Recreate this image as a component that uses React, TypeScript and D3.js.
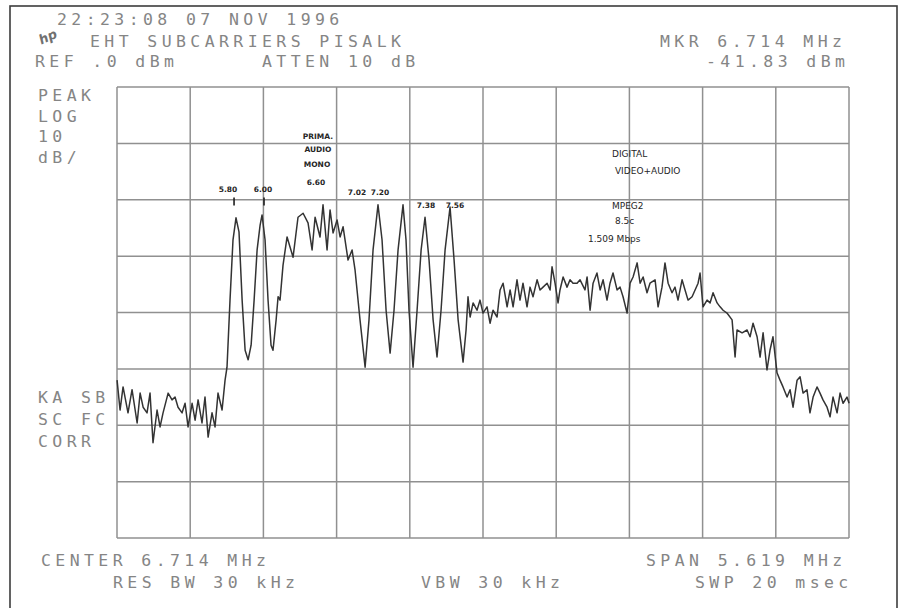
import React from 'react';
import * as d3 from 'd3';

// analyzer settings
const centerMHz = 6.714;
const spanMHz = 5.619;
const refLevel = 0;
const dbPerDiv = 10;
const hDivs = 10;
const vDivs = 8;

// trace, MHz / dBm
const freqMHz = [
  3.905, 3.928, 3.951, 3.989, 4.020, 4.059, 4.082, 4.105, 4.135, 4.158, 4.181, 4.212, 4.235, 4.258,
  4.297, 4.327, 4.350, 4.373, 4.404, 4.427, 4.450, 4.481, 4.504, 4.527, 4.557, 4.580, 4.604, 4.634,
  4.657, 4.680, 4.711, 4.734, 4.749,
  4.772, 4.795, 4.818, 4.841, 4.865, 4.888, 4.911, 4.934, 4.957, 4.980, 5.003, 5.018, 5.041, 5.064,
  5.087, 5.102, 5.126, 5.141, 5.156, 5.179, 5.210, 5.256, 5.294, 5.333, 5.371, 5.402, 5.425, 5.463,
  5.486, 5.517, 5.540, 5.563, 5.594, 5.617, 5.640, 5.678, 5.709, 5.732, 5.770, 5.809, 5.839, 5.870,
  5.908, 5.939, 5.970, 6.001, 6.031, 6.062, 6.100, 6.123, 6.146, 6.177, 6.208, 6.239, 6.269, 6.300,
  6.331, 6.361, 6.392, 6.423, 6.461, 6.492, 6.523, 6.561, 6.584, 6.599, 6.615, 6.638, 6.668, 6.691,
  6.714, 6.745, 6.768, 6.791, 6.822, 6.845, 6.868, 6.899, 6.922, 6.945, 6.975, 6.998, 7.021, 7.052,
  7.075, 7.098, 7.129, 7.152, 7.175, 7.206, 7.229, 7.244, 7.267, 7.290, 7.305, 7.329, 7.359, 7.382,
  7.405, 7.436, 7.459, 7.497, 7.513, 7.536, 7.559, 7.589, 7.613, 7.636, 7.666, 7.689, 7.712, 7.743,
  7.766, 7.789, 7.820, 7.843, 7.866, 7.897, 7.920, 7.943, 7.973, 7.996, 8.035, 8.058, 8.088, 8.111,
  8.135, 8.165, 8.188, 8.211, 8.242, 8.265, 8.288, 8.319, 8.342, 8.365, 8.380, 8.403, 8.434, 8.457,
  8.480, 8.511, 8.534, 8.557, 8.587, 8.626, 8.649, 8.664, 8.703, 8.741, 8.764, 8.787, 8.818, 8.841,
  8.864, 8.894, 8.917, 8.940, 8.971, 8.994, 9.017, 9.048, 9.071, 9.094, 9.125, 9.148, 9.171, 9.201,
  9.224, 9.248, 9.278, 9.301, 9.324, 9.355, 9.378, 9.401, 9.432, 9.455, 9.478, 9.508, 9.524,
];
const levelDbm = [
  -52.0, -57.3, -53.2, -57.8, -53.7, -59.6, -54.3, -56.8, -57.8, -54.3, -63.1, -57.3, -60.3, -57.8,
  -54.3, -55.5, -55.0, -56.8, -57.8, -56.1, -60.3, -56.1, -59.1, -55.5, -59.6, -55.0, -62.1, -57.8,
  -60.3, -54.3, -57.3, -52.0, -49.7,
  -37.8, -27.1, -23.2, -25.7, -37.8, -46.7, -48.4, -45.8, -37.8, -28.9, -24.5, -22.7, -27.1, -37.8,
  -45.8, -46.7, -41.3, -37.2, -37.8, -31.6, -26.6, -30.2, -23.1, -22.4, -24.1, -28.9, -23.1, -26.6,
  -20.9, -28.9, -21.8, -25.9, -23.6, -26.6, -24.8, -30.7, -28.9, -32.5, -41.3, -49.7, -41.3, -28.9,
  -20.9, -27.1, -39.6, -47.2, -39.6, -28.9, -20.9, -27.1, -39.6, -49.7, -39.6, -28.9, -23.1, -30.7,
  -41.3, -47.9, -39.6, -28.9, -21.3, -30.7, -41.3, -48.8, -43.1, -37.2, -40.8, -38.3, -39.6, -37.8,
  -40.1, -39.0, -41.9, -39.6, -40.8, -36.0, -34.8, -39.0, -36.0, -39.0, -34.2, -37.8, -34.8, -39.0,
  -35.5, -37.2, -34.2, -36.0, -35.5, -34.8, -36.0, -31.9, -34.8, -38.3, -36.0, -33.7, -35.5, -34.2,
  -34.8, -34.8, -34.2, -36.0, -33.7, -39.6, -34.8, -33.0, -36.0, -34.2, -37.8, -34.8, -33.0, -36.0,
  -35.5, -37.2, -40.1, -34.8, -33.7, -31.2, -34.8, -33.7, -36.5, -34.8, -34.2, -39.0, -35.5, -31.2,
  -34.8, -36.5, -35.5, -37.8, -34.2, -36.0, -37.8, -37.2, -36.0, -34.8, -33.0, -39.0, -37.8, -38.3,
  -36.5, -38.3, -39.0, -39.6, -40.1, -41.3, -47.9, -43.1, -43.6, -43.1, -44.3, -41.9, -44.3, -47.9,
  -43.6, -50.2, -46.7, -44.3, -50.7, -52.0, -53.2, -55.0, -53.7, -56.8, -52.0, -51.4, -54.3, -53.7,
  -57.8, -55.0, -53.2, -54.3, -55.5, -56.8, -58.5, -55.0, -57.8, -54.3, -56.1, -55.0, -56.1,
];

// hand-written notes on the plot, anchored in MHz / dBm
const peakNotes = ['5.80', '6.00', 'PRIMA.', 'AUDIO', 'MONO', '6.60', '7.02', '7.20', '7.38', '7.56'];
const peakNoteFreq = [4.757, 5.025, 5.447, 5.447, 5.440, 5.432, 5.747, 5.923, 6.276, 6.499];
const peakNoteLevel = [-18.6, -18.6, -9.2, -11.5, -14.2, -17.4, -19.2, -19.2, -21.5, -21.5];

const digitalNotes = ['DIGITAL', 'VIDEO+AUDIO', 'MPEG2', '8.5c', '1.509 Mbps'];
const digitalNoteFreq = [7.704, 7.727, 7.704, 7.727, 7.520];
const digitalNoteLevel = [-12.4, -15.4, -21.6, -24.3, -27.5];

const markerFreq = [4.803, 5.033];

const W = 907;
const H = 608;
const plot = { left: 117, top: 87, right: 849, bottom: 538 };

const screen: React.CSSProperties = {
  fontFamily: "'DejaVu Sans Mono', monospace",
  fontSize: 16.5,
  letterSpacing: 4.4,
  fill: '#858585',
};

export default function App() {
  const startF = centerMHz - spanMHz / 2;
  const stopF = centerMHz + spanMHz / 2;
  const bottomLevel = refLevel - dbPerDiv * vDivs;

  const x = d3.scaleLinear().domain([startF, stopF]).range([plot.left, plot.right]);
  const y = d3.scaleLinear().domain([bottomLevel, refLevel]).range([plot.bottom, plot.top]);

  const vLines = d3.range(hDivs + 1).map(i => startF + (i * spanMHz) / hDivs);
  const hLines = d3.range(vDivs + 1).map(i => refLevel - i * dbPerDiv);

  const trace = d3
    .line<number>()
    .x((_, i) => x(freqMHz[i]))
    .y(d => y(d))(levelDbm);

  return (
    <svg
      width={W}
      height={H}
      viewBox={`0 0 ${W} ${H}`}
      style={{ position: 'absolute', left: 0, top: 0, background: '#fff' }}
    >
      <rect x={0} y={0} width={W} height={H} fill="#fff" />
      <rect x={10} y={6} width={887} height={610} fill="none" stroke="#3c3c3c" strokeWidth={1.6} />

      {/* graticule */}
      <g stroke="#909090" strokeWidth={1.5}>
        {vLines.map((f, i) => (
          <line key={'v' + i} x1={x(f)} x2={x(f)} y1={plot.top} y2={plot.bottom} />
        ))}
        {hLines.map((l, i) => (
          <line key={'h' + i} x1={plot.left} x2={plot.right} y1={y(l)} y2={y(l)} />
        ))}
      </g>

      <path d={trace || ''} fill="none" stroke="#333" strokeWidth={1.5} strokeLinejoin="round" />

      {/* hand notes */}
      <g fontFamily="'DejaVu Sans', sans-serif" fontSize={7.5} fontWeight="bold" fill="#262626" textAnchor="middle">
        {peakNotes.map((t, i) => (
          <text key={t + i} x={x(peakNoteFreq[i])} y={y(peakNoteLevel[i])}>{t}</text>
        ))}
      </g>
      <g fontFamily="'DejaVu Sans', sans-serif" fontSize={9} fill="#262626">
        {digitalNotes.map((t, i) => (
          <text key={t + i} x={x(digitalNoteFreq[i])} y={y(digitalNoteLevel[i])}>{t}</text>
        ))}
      </g>
      <g stroke="#1e1e1e" strokeWidth={1.6}>
        {markerFreq.map((f, i) => (
          <line key={i} x1={x(f)} x2={x(f)} y1={y(-19.6)} y2={y(-21.0)} />
        ))}
      </g>

      {/* hp logo */}
      <text x={38} y={42} fontFamily="'DejaVu Sans', sans-serif" fontStyle="italic" fontWeight="bold"
        fontSize={13} fill="#707070" transform="rotate(-25 46 36)">hp</text>

      {/* screen annotations */}
      <g style={screen}>
        <text x={57} y={25}>22:23:08  07 NOV 1996</text>
        <text x={90} y={47}>EHT SUBCARRIERS PISALK</text>
        <text x={35} y={67}>REF .0 dBm</text>
        <text x={262} y={67}>ATTEN 10 dB</text>
        <text x={660} y={47}>MKR 6.714 MHz</text>
        <text x={706} y={67}>-41.83 dBm</text>
        <text x={38} y={101}>PEAK</text>
        <text x={38} y={122}>LOG</text>
        <text x={38} y={142}>10</text>
        <text x={38} y={163}>dB/</text>
        <text x={38} y={403}>KA SB</text>
        <text x={38} y={425}>SC FC</text>
        <text x={38} y={447}>CORR</text>
        <text x={41} y={566}>CENTER 6.714 MHz</text>
        <text x={646} y={566}>SPAN 5.619 MHz</text>
        <text x={113} y={588}>RES BW 30 kHz</text>
        <text x={421} y={588}>VBW 30 kHz</text>
        <text x={695} y={588}>SWP 20 msec</text>
      </g>
    </svg>
  );
}
